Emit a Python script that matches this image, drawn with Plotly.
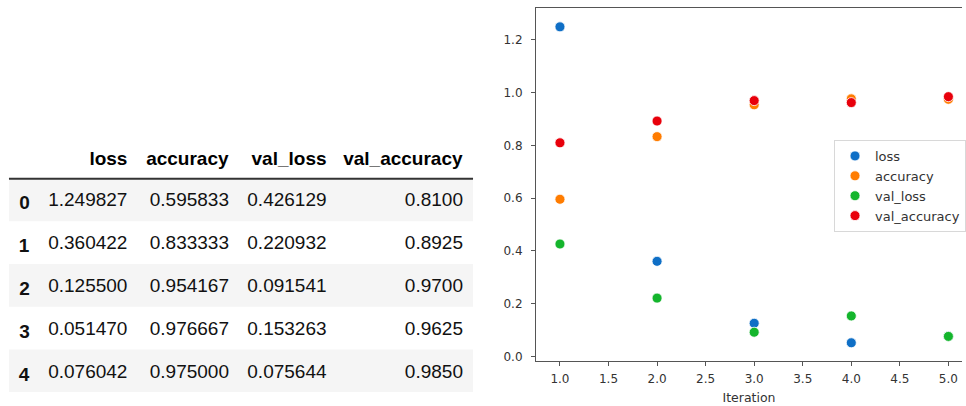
import plotly.graph_objects as go

# ---- data ----
iteration = [1, 2, 3, 4, 5]
row_index = ["0", "1", "2", "3", "4"]
loss = [1.249827, 0.360422, 0.125500, 0.051470, 0.076042]
accuracy = [0.595833, 0.833333, 0.954167, 0.976667, 0.975000]
val_loss = [0.426129, 0.220932, 0.091541, 0.153263, 0.075644]
val_accuracy = [0.8100, 0.8925, 0.9700, 0.9625, 0.9850]
columns = ["loss", "accuracy", "val_loss", "val_accuracy"]

W, H = 966, 406
colors = {"loss": "#0f6fc6", "accuracy": "#ff7c00",
          "val_loss": "#14b52c", "val_accuracy": "#e8000b"}
series = {"loss": loss, "accuracy": accuracy,
          "val_loss": val_loss, "val_accuracy": val_accuracy}

fig = go.Figure()

# ---- table ----
n = len(row_index)
cell_vals = [["<b>%s</b>" % r for r in row_index],
             ["%.6f" % v for v in loss],
             ["%.6f" % v for v in accuracy],
             ["%.6f" % v for v in val_loss],
             ["%.4f" % v for v in val_accuracy]]

tx0, tx1 = 9, 473
head_h, row_h = 44, 43
rule_y = 180
text_shift = 5  # table text sits near the top of plotly cells; nudge it down
fig.add_trace(go.Table(
    domain=dict(x=[tx0 / W, tx1 / W],
                y=[0, 1 - (rule_y - head_h + text_shift) / H]),
    columnwidth=[29, 98, 102, 98, 137],
    header=dict(values=[""] + ["<b>%s</b>" % c for c in columns],
                align="right", height=head_h,
                fill=dict(color="rgba(0,0,0,0)"),
                line=dict(color="rgba(0,0,0,0)", width=0),
                font=dict(family="Liberation Sans, Arial", size=19, color="#000")),
    cells=dict(values=cell_vals, align="right", height=row_h,
               fill=dict(color="rgba(0,0,0,0)"),
               line=dict(color="rgba(0,0,0,0)", width=0),
               font=dict(family="Liberation Sans, Arial", size=19, color="#111")),
))

# striped row backgrounds
for i in range(n):
    if i % 2 == 0:
        y_top = rule_y + i * row_h
        fig.add_shape(type="rect", xref="paper", yref="paper", layer="below",
                      x0=tx0 / W, x1=(tx1 + 2) / W,
                      y0=1 - (y_top + row_h) / H, y1=1 - y_top / H,
                      fillcolor="#f5f5f5", line=dict(width=0))

# header rule
fig.add_shape(type="line", xref="paper", yref="paper",
              x0=tx0 / W, x1=(tx1 + 2) / W, y0=1 - rule_y / H, y1=1 - rule_y / H,
              line=dict(color="#333", width=2))

# ---- scatter ----
for c in columns:
    fig.add_trace(go.Scatter(
        x=iteration, y=series[c], mode="markers", name=c,
        marker=dict(size=10, color=colors[c], line=dict(color="white", width=0.8)),
        xaxis="x", yaxis="y"))

axis_font = dict(family="DejaVu Sans", size=12, color="#333")
fig.update_layout(
    width=W, height=H,
    margin=dict(l=0, r=0, t=0, b=0),
    paper_bgcolor="white", plot_bgcolor="rgba(0,0,0,0)",
    xaxis=dict(domain=[538.3 / W, 1.0], range=[0.754, 5.14],
               tickvals=[1.0, 1.5, 2.0, 2.5, 3.0, 3.5, 4.0, 4.5, 5.0],
               ticktext=["1.0", "1.5", "2.0", "2.5", "3.0", "3.5", "4.0", "4.5", "5.0"],
               showgrid=False, zeroline=False, showline=True, linecolor="#555",
               linewidth=1.2, mirror=True, ticks="outside", ticklen=4,
               tickcolor="#555", tickfont=axis_font, ticklabelstandoff=3,
               title=dict(text="Iteration", font=dict(family="DejaVu Sans", size=12.5, color="#333"),
                          standoff=8)),
    yaxis=dict(domain=[1 - 363.3 / H, 1 - 8 / H], range=[-0.0162, 1.3215],
               tickvals=[0.0, 0.2, 0.4, 0.6, 0.8, 1.0, 1.2],
               ticktext=["0.0", "0.2", "0.4", "0.6", "0.8", "1.0", "1.2"],
               showgrid=False, zeroline=False, showline=True, linecolor="#555",
               linewidth=1.2, mirror=False, ticks="outside", ticklen=4,
               tickcolor="#555", tickfont=axis_font, ticklabelstandoff=6),
    legend=dict(x=837.7 / W, y=1 - 141 / H, xanchor="left", yanchor="top",
                bgcolor="rgba(255,255,255,0.85)", bordercolor="#d8d8d8", borderwidth=1,
                font=dict(family="DejaVu Sans", size=13, color="#333"),
                itemwidth=30, tracegroupgap=0),
    showlegend=True,
)

fig.write_html("out.html", config={"displayModeBar": False},
               post_script="document.body.style.margin='0';document.body.style.overflow='hidden';")
